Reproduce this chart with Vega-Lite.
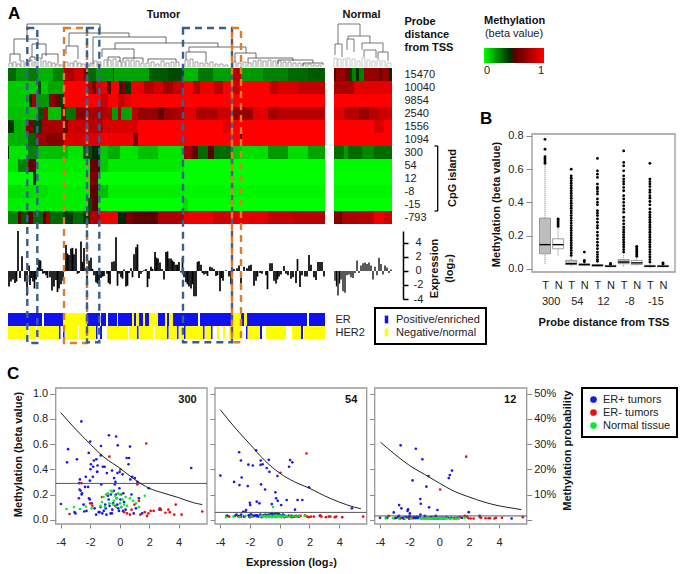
{"$schema":"https://vega.github.io/schema/vega-lite/v6.json","width":683,"height":574,"padding":0,"autosize":{"type":"none"},"background":"white",
"config":{"font":"Liberation Sans","view":{"stroke":null},"axis":{"grid":false,"domain":false,"labelColor":"#222","labelFontSize":11,"titleFontSize":11,"titleFontWeight":"bold","titleColor":"#111","tickColor":"#888","labelOverlap":false,"labelFlush":false},"legend":{"strokeWidth":2}},
"datasets":{
"heatT":[
{"p":"15470","a":0,"b":8,"v":0.3},{"p":"15470","a":8,"b":20,"v":0.2},{"p":"15470","a":20,"b":30,"v":0.26},{"p":"15470","a":30,"b":45,"v":0.15},{"p":"15470","a":45,"b":56,"v":0.25},{"p":"15470","a":56,"b":66,"v":0.76},{"p":"15470","a":66,"b":76,"v":0.87},{"p":"15470","a":76,"b":80,"v":0.62},{"p":"15470","a":80,"b":88,"v":0.3},{"p":"15470","a":88,"b":105,"v":0.2},{"p":"15470","a":105,"b":106,"v":0.5},{"p":"15470","a":106,"b":141,"v":0.18},{"p":"15470","a":141,"b":160,"v":0.33},{"p":"15470","a":160,"b":176,"v":0.37},{"p":"15470","a":176,"b":190,"v":0.14},{"p":"15470","a":190,"b":205,"v":0.27},{"p":"15470","a":205,"b":224,"v":0.19},{"p":"15470","a":224,"b":233,"v":0.8},{"p":"15470","a":233,"b":255,"v":0.2},{"p":"15470","a":255,"b":280,"v":0.25},{"p":"15470","a":280,"b":300,"v":0.3},{"p":"15470","a":300,"b":317,"v":0.33},
{"p":"10040","a":0,"b":30,"v":0.1},{"p":"10040","a":30,"b":33,"v":0.35},{"p":"10040","a":33,"b":40,"v":0.1},{"p":"10040","a":40,"b":56,"v":0.17},{"p":"10040","a":56,"b":79,"v":1},{"p":"10040","a":79,"b":84,"v":0.8},{"p":"10040","a":84,"b":88,"v":0.62},{"p":"10040","a":88,"b":93,"v":0.88},{"p":"10040","a":93,"b":99,"v":0.95},{"p":"10040","a":99,"b":103,"v":0.52},{"p":"10040","a":103,"b":111,"v":1},{"p":"10040","a":111,"b":114,"v":0.45},{"p":"10040","a":114,"b":118,"v":0.62},{"p":"10040","a":118,"b":123,"v":0.42},{"p":"10040","a":123,"b":136,"v":0.95},{"p":"10040","a":136,"b":146,"v":0.78},{"p":"10040","a":146,"b":155,"v":0.88},{"p":"10040","a":155,"b":165,"v":0.74},{"p":"10040","a":165,"b":176,"v":0.85},{"p":"10040","a":176,"b":185,"v":1},{"p":"10040","a":185,"b":192,"v":0.78},{"p":"10040","a":192,"b":206,"v":0.95},{"p":"10040","a":206,"b":215,"v":0.82},{"p":"10040","a":215,"b":224,"v":1},{"p":"10040","a":224,"b":232,"v":0.85},{"p":"10040","a":232,"b":262,"v":1},{"p":"10040","a":262,"b":270,"v":0.82},{"p":"10040","a":270,"b":290,"v":0.9},{"p":"10040","a":290,"b":317,"v":0.84},
{"p":"9854","a":0,"b":21,"v":0.1},{"p":"9854","a":21,"b":24,"v":0.45},{"p":"9854","a":24,"b":28,"v":0.72},{"p":"9854","a":28,"b":41,"v":0.2},{"p":"9854","a":41,"b":46,"v":0.68},{"p":"9854","a":46,"b":52,"v":0.58},{"p":"9854","a":52,"b":56,"v":0.4},{"p":"9854","a":56,"b":93,"v":1},{"p":"9854","a":93,"b":100,"v":0.85},{"p":"9854","a":100,"b":110,"v":1},{"p":"9854","a":110,"b":116,"v":0.85},{"p":"9854","a":116,"b":123,"v":0.92},{"p":"9854","a":123,"b":317,"v":1},
{"p":"2540","a":0,"b":30,"v":0.12},{"p":"2540","a":30,"b":36,"v":0.35},{"p":"2540","a":36,"b":40,"v":0.72},{"p":"2540","a":40,"b":53,"v":0.12},{"p":"2540","a":53,"b":58,"v":0.62},{"p":"2540","a":58,"b":68,"v":0.28},{"p":"2540","a":68,"b":78,"v":0.66},{"p":"2540","a":78,"b":95,"v":0.75},{"p":"2540","a":95,"b":104,"v":0.8},{"p":"2540","a":104,"b":110,"v":0.2},{"p":"2540","a":110,"b":113,"v":0.72},{"p":"2540","a":113,"b":124,"v":0.18},{"p":"2540","a":124,"b":130,"v":0.82},{"p":"2540","a":130,"b":150,"v":0.7},{"p":"2540","a":150,"b":156,"v":0.55},{"p":"2540","a":156,"b":165,"v":0.72},{"p":"2540","a":165,"b":176,"v":0.76},{"p":"2540","a":176,"b":188,"v":0.92},{"p":"2540","a":188,"b":210,"v":0.76},{"p":"2540","a":210,"b":224,"v":0.86},{"p":"2540","a":224,"b":245,"v":0.7},{"p":"2540","a":245,"b":260,"v":0.92},{"p":"2540","a":260,"b":270,"v":0.75},{"p":"2540","a":270,"b":317,"v":0.8},
{"p":"1556","a":0,"b":6,"v":0.42},{"p":"1556","a":6,"b":18,"v":0.15},{"p":"1556","a":18,"b":26,"v":0.62},{"p":"1556","a":26,"b":34,"v":0.4},{"p":"1556","a":34,"b":55,"v":0.76},{"p":"1556","a":55,"b":60,"v":0.55},{"p":"1556","a":60,"b":80,"v":0.86},{"p":"1556","a":80,"b":95,"v":0.8},{"p":"1556","a":95,"b":130,"v":0.9},{"p":"1556","a":130,"b":215,"v":1},{"p":"1556","a":215,"b":225,"v":0.92},{"p":"1556","a":225,"b":317,"v":1},
{"p":"1094","a":0,"b":20,"v":0.15},{"p":"1094","a":20,"b":28,"v":0.3},{"p":"1094","a":28,"b":38,"v":0.72},{"p":"1094","a":38,"b":56,"v":0.66},{"p":"1094","a":56,"b":90,"v":0.9},{"p":"1094","a":90,"b":125,"v":0.96},{"p":"1094","a":125,"b":130,"v":0.6},{"p":"1094","a":130,"b":232,"v":1},{"p":"1094","a":232,"b":234,"v":0.55},{"p":"1094","a":234,"b":317,"v":1},
{"p":"300","a":0,"b":1,"v":0.42},{"p":"300","a":1,"b":20,"v":0.05},{"p":"300","a":20,"b":30,"v":0.25},{"p":"300","a":30,"b":60,"v":0.12},{"p":"300","a":60,"b":75,"v":0.05},{"p":"300","a":75,"b":84,"v":0.35},{"p":"300","a":84,"b":92,"v":0.48},{"p":"300","a":92,"b":100,"v":0.1},{"p":"300","a":100,"b":112,"v":0.16},{"p":"300","a":112,"b":130,"v":0.05},{"p":"300","a":130,"b":150,"v":0.12},{"p":"300","a":150,"b":176,"v":0.05},{"p":"300","a":176,"b":184,"v":0.72},{"p":"300","a":184,"b":190,"v":0.55},{"p":"300","a":190,"b":200,"v":0.3},{"p":"300","a":200,"b":206,"v":0.5},{"p":"300","a":206,"b":224,"v":0.3},{"p":"300","a":224,"b":234,"v":0.1},{"p":"300","a":234,"b":260,"v":0.06},{"p":"300","a":260,"b":280,"v":0.2},{"p":"300","a":280,"b":300,"v":0.07},{"p":"300","a":300,"b":317,"v":0.18},
{"p":"54","a":0,"b":10,"v":0.05},{"p":"54","a":10,"b":20,"v":0.25},{"p":"54","a":20,"b":28,"v":0.55},{"p":"54","a":28,"b":82,"v":0.03},{"p":"54","a":82,"b":92,"v":0.55},{"p":"54","a":92,"b":100,"v":0.1},{"p":"54","a":100,"b":176,"v":0.04},{"p":"54","a":176,"b":317,"v":0},
{"p":"12","a":0,"b":25,"v":0},{"p":"12","a":25,"b":28,"v":0.45},{"p":"12","a":28,"b":82,"v":0.02},{"p":"12","a":82,"b":90,"v":0.62},{"p":"12","a":90,"b":317,"v":0},
{"p":"-8","a":0,"b":40,"v":0.06},{"p":"-8","a":40,"b":82,"v":0.03},{"p":"-8","a":82,"b":90,"v":0.52},{"p":"-8","a":90,"b":100,"v":0.12},{"p":"-8","a":100,"b":176,"v":0.03},{"p":"-8","a":176,"b":317,"v":0.02},
{"p":"-15","a":0,"b":80,"v":0.03},{"p":"-15","a":80,"b":84,"v":0.35},{"p":"-15","a":84,"b":90,"v":0.52},{"p":"-15","a":90,"b":175,"v":0},{"p":"-15","a":175,"b":180,"v":0.06},{"p":"-15","a":180,"b":317,"v":0},
{"p":"-793","a":0,"b":10,"v":0.25},{"p":"-793","a":10,"b":13,"v":0.5},{"p":"-793","a":13,"b":20,"v":0.35},{"p":"-793","a":20,"b":25,"v":0.5},{"p":"-793","a":25,"b":35,"v":0.3},{"p":"-793","a":35,"b":38,"v":0.5},{"p":"-793","a":38,"b":42,"v":0.72},{"p":"-793","a":42,"b":55,"v":0.3},{"p":"-793","a":55,"b":65,"v":0.4},{"p":"-793","a":65,"b":75,"v":0.3},{"p":"-793","a":75,"b":82,"v":0.42},{"p":"-793","a":82,"b":92,"v":0.76},{"p":"-793","a":92,"b":110,"v":0.95},{"p":"-793","a":110,"b":118,"v":0.48},{"p":"-793","a":118,"b":125,"v":0.6},{"p":"-793","a":125,"b":135,"v":0.53},{"p":"-793","a":135,"b":150,"v":0.5},{"p":"-793","a":150,"b":176,"v":0.76},{"p":"-793","a":176,"b":205,"v":0.94},{"p":"-793","a":205,"b":224,"v":0.86},{"p":"-793","a":224,"b":260,"v":0.92},{"p":"-793","a":260,"b":285,"v":0.84},{"p":"-793","a":285,"b":317,"v":0.8}
],
"heatN":[
{"p":"15470","a":0,"b":2,"v":0.55},{"p":"15470","a":2,"b":12,"v":0.7},{"p":"15470","a":12,"b":16,"v":0.6},{"p":"15470","a":16,"b":18,"v":0.4},{"p":"15470","a":18,"b":22,"v":0.25},{"p":"15470","a":22,"b":25,"v":0.45},{"p":"15470","a":25,"b":30,"v":0.25},{"p":"15470","a":30,"b":45,"v":0.7},{"p":"15470","a":45,"b":48,"v":0.5},{"p":"15470","a":48,"b":55,"v":0.7},{"p":"15470","a":55,"b":58,"v":0.45},
{"p":"10040","a":0,"b":20,"v":0.76},{"p":"10040","a":20,"b":58,"v":0.92},
{"p":"9854","a":0,"b":58,"v":1},
{"p":"2540","a":0,"b":10,"v":0.92},{"p":"2540","a":10,"b":25,"v":0.8},{"p":"2540","a":25,"b":35,"v":0.7},{"p":"2540","a":35,"b":45,"v":0.8},{"p":"2540","a":45,"b":58,"v":0.86},
{"p":"1556","a":0,"b":40,"v":1},{"p":"1556","a":40,"b":50,"v":0.9},{"p":"1556","a":50,"b":58,"v":1},
{"p":"1094","a":0,"b":58,"v":1},
{"p":"300","a":0,"b":10,"v":0.3},{"p":"300","a":10,"b":14,"v":0.2},{"p":"300","a":14,"b":28,"v":0.3},{"p":"300","a":28,"b":40,"v":0.24},{"p":"300","a":40,"b":58,"v":0.3},
{"p":"54","a":0,"b":58,"v":0.01},{"p":"12","a":0,"b":58,"v":0},{"p":"-8","a":0,"b":58,"v":0.02},{"p":"-15","a":0,"b":58,"v":0},
{"p":"-793","a":0,"b":6,"v":0.66},{"p":"-793","a":6,"b":8,"v":0.5},{"p":"-793","a":8,"b":25,"v":0.76},{"p":"-793","a":25,"b":40,"v":0.8},{"p":"-793","a":40,"b":50,"v":0.95},{"p":"-793","a":50,"b":58,"v":0.86}
],
"exprT":[{"s":1,"e":-2.2},{"s":3,"e":-1.5},{"s":5,"e":-1.2},{"s":7,"e":-1.7},{"s":8.5,"e":-1.5},{"s":10,"e":5.7},{"s":12,"e":-1},{"s":14,"e":2.1},{"s":17,"e":-1.5},{"s":19,"e":-3.5},{"s":21,"e":0.8},{"s":22,"e":-2},{"s":23.5,"e":-1},{"s":25,"e":-1.5},{"s":26.5,"e":-2.5},{"s":28,"e":-1.2},{"s":29.5,"e":0.5},{"s":31,"e":1.6},{"s":32.5,"e":1.5},{"s":34,"e":0.3},{"s":35,"e":-0.4},{"s":36.5,"e":-0.3},{"s":38,"e":-0.6},{"s":39.5,"e":-1},{"s":42,"e":-0.9},{"s":44,"e":-2.8},{"s":46,"e":-2.2},{"s":48,"e":-1.3},{"s":49.5,"e":-3},{"s":51,"e":-2.5},{"s":53,"e":-1.9},{"s":55,"e":-1.4},{"s":57,"e":0.5},{"s":58,"e":3.7},{"s":59.5,"e":2.5},{"s":61,"e":2.3},{"s":63,"e":3.2},{"s":64.5,"e":3.3},{"s":66,"e":2.4},{"s":68,"e":3.2},{"s":69.5,"e":-0.4},{"s":71,"e":-0.3},{"s":73,"e":4.2},{"s":74.5,"e":1.3},{"s":76,"e":3.3},{"s":78,"e":0.4},{"s":79,"e":-1.7},{"s":81,"e":1.5},{"s":83,"e":1.9},{"s":84.5,"e":0.3},{"s":86,"e":-0.6},{"s":88,"e":-1.6},{"s":89.5,"e":-1.8},{"s":91,"e":-1.6},{"s":93,"e":-1},{"s":94.5,"e":-0.8},{"s":96,"e":-0.7},{"s":99,"e":-0.4},{"s":100.5,"e":-1.7},{"s":102,"e":-1.9},{"s":104,"e":1.3},{"s":106,"e":1.4},{"s":108,"e":4.8},{"s":109.5,"e":-2.1},{"s":111,"e":-0.4},{"s":113,"e":-0.9},{"s":114.5,"e":-1.1},{"s":116,"e":0.2},{"s":118,"e":-2.2},{"s":119.5,"e":-2.1},{"s":121,"e":-0.3},{"s":123,"e":0.4},{"s":124.5,"e":-0.9},{"s":126,"e":2.4},{"s":128,"e":3.4},{"s":129.5,"e":3.8},{"s":131,"e":-1},{"s":133,"e":-0.4},{"s":134.5,"e":-0.1},{"s":136,"e":0.1},{"s":138,"e":0.3},{"s":139.5,"e":-2.3},{"s":141,"e":-1.1},{"s":143,"e":0.6},{"s":144.5,"e":0.3},{"s":147,"e":2.7},{"s":148.5,"e":1.9},{"s":150,"e":1.8},{"s":152,"e":1.2},{"s":154,"e":0.3},{"s":156,"e":-1.2},{"s":158,"e":2.7},{"s":159.5,"e":2.8},{"s":161,"e":1.8},{"s":163,"e":1.8},{"s":164.5,"e":1.5},{"s":166,"e":1.3},{"s":168,"e":0.9},{"s":169.5,"e":0.9},{"s":171,"e":1.3},{"s":173,"e":-0.2},{"s":174.5,"e":1.9},{"s":176,"e":-0.9},{"s":178,"e":-1.6},{"s":179.5,"e":-1.9},{"s":181,"e":-2.2},{"s":183,"e":-2.5},{"s":184.5,"e":-1.9},{"s":186,"e":-3.6},{"s":188,"e":-3.6},{"s":189.5,"e":1.3},{"s":191,"e":1.4},{"s":193,"e":0.9},{"s":194.5,"e":-0.3},{"s":196,"e":-0.5},{"s":198,"e":-0.4},{"s":199.5,"e":-0.7},{"s":202,"e":0.6},{"s":204,"e":0.5},{"s":206,"e":0.3},{"s":208,"e":-0.7},{"s":209.5,"e":-0.6},{"s":212,"e":-2.9},{"s":213.5,"e":-1},{"s":215,"e":-1.4},{"s":218,"e":0.1},{"s":221,"e":-0.8},{"s":223,"e":-1.9},{"s":226,"e":0.3},{"s":229,"e":0.4},{"s":231,"e":0.8},{"s":233,"e":-2.7},{"s":236,"e":0.6},{"s":239,"e":0.4},{"s":241,"e":0.8},{"s":243,"e":0.9},{"s":246,"e":-2.1},{"s":248,"e":-1.4},{"s":249.5,"e":-0.8},{"s":252,"e":-0.3},{"s":254,"e":-0.4},{"s":258,"e":-0.6},{"s":259.5,"e":-2.6},{"s":262,"e":1.1},{"s":264,"e":1.1},{"s":266,"e":-1.4},{"s":268,"e":-1.8},{"s":269.5,"e":-1.2},{"s":271,"e":-0.8},{"s":273,"e":-0.5},{"s":276,"e":0.7},{"s":278,"e":-0.4},{"s":280,"e":-0.6},{"s":283,"e":-1.1},{"s":285,"e":-0.9},{"s":288,"e":-1.7},{"s":289.5,"e":1.7},{"s":292,"e":-2.3},{"s":294,"e":-0.6},{"s":297,"e":-0.8},{"s":299,"e":-0.8},{"s":301,"e":2.3},{"s":303,"e":0.9},{"s":306,"e":-0.9},{"s":308,"e":-1.3},{"s":310,"e":1.3},{"s":312,"e":1.3},{"s":314,"e":1.3},{"s":316,"e":-0.8}],
"exprN":[{"s":1,"e":-1.4},{"s":2.5,"e":-2.2},{"s":4,"e":-3.5},{"s":5.5,"e":-1.8},{"s":7,"e":-1.2},{"s":9,"e":-2.9},{"s":11,"e":-3.1},{"s":13,"e":-0.6},{"s":15,"e":-0.5},{"s":17,"e":-0.9},{"s":19,"e":-1},{"s":21,"e":-0.3},{"s":23,"e":1.5},{"s":25,"e":-0.3},{"s":27,"e":0.8},{"s":29,"e":1.1},{"s":31,"e":1.2},{"s":33,"e":1},{"s":35,"e":1.2},{"s":37,"e":0.8},{"s":39,"e":-1.2},{"s":41,"e":0.6},{"s":43,"e":-0.6},{"s":45,"e":1.9},{"s":47,"e":1},{"s":49,"e":-0.5},{"s":51,"e":0.8},{"s":53,"e":0.5},{"s":55,"e":-0.3},{"s":57,"e":0.2}],
"strip":[
{"t":"ER","a":0,"b":34,"k":"Positive/enriched"},{"t":"ER","a":36,"b":55,"k":"Positive/enriched"},{"t":"ER","a":55,"b":79,"k":"Negative/normal"},{"t":"ER","a":79,"b":92,"k":"Positive/enriched"},{"t":"ER","a":93,"b":98,"k":"Positive/enriched"},{"t":"ER","a":100,"b":109,"k":"Positive/enriched"},{"t":"ER","a":110,"b":124,"k":"Positive/enriched"},{"t":"ER","a":124,"b":126,"k":"Negative/normal"},{"t":"ER","a":126,"b":128,"k":"Positive/enriched"},{"t":"ER","a":128,"b":131,"k":"Negative/normal"},{"t":"ER","a":131,"b":135,"k":"Positive/enriched"},{"t":"ER","a":135,"b":137,"k":"Negative/normal"},{"t":"ER","a":137,"b":141,"k":"Positive/enriched"},{"t":"ER","a":141,"b":145,"k":"Negative/normal"},{"t":"ER","a":145,"b":150,"k":"Negative/normal"},{"t":"ER","a":150,"b":157,"k":"Positive/enriched"},{"t":"ER","a":157,"b":159,"k":"Negative/normal"},{"t":"ER","a":159,"b":161,"k":"Positive/enriched"},{"t":"ER","a":161,"b":165,"k":"Negative/normal"},{"t":"ER","a":165,"b":173,"k":"Positive/enriched"},{"t":"ER","a":173,"b":190,"k":"Positive/enriched"},{"t":"ER","a":192,"b":224,"k":"Positive/enriched"},{"t":"ER","a":224,"b":233,"k":"Negative/normal"},{"t":"ER","a":233,"b":236,"k":"Positive/enriched"},{"t":"ER","a":236,"b":239,"k":"Negative/normal"},{"t":"ER","a":239,"b":299,"k":"Positive/enriched"},{"t":"ER","a":301,"b":317,"k":"Positive/enriched"},
{"t":"HER2","a":0,"b":20,"k":"Negative/normal"},{"t":"HER2","a":21,"b":28,"k":"Negative/normal"},{"t":"HER2","a":29,"b":51,"k":"Negative/normal"},{"t":"HER2","a":51,"b":52.5,"k":"Positive/enriched"},{"t":"HER2","a":55,"b":56.5,"k":"Positive/enriched"},{"t":"HER2","a":57,"b":63,"k":"Negative/normal"},{"t":"HER2","a":64,"b":70,"k":"Negative/normal"},{"t":"HER2","a":71,"b":88,"k":"Negative/normal"},{"t":"HER2","a":88,"b":89.5,"k":"Positive/enriched"},{"t":"HER2","a":92,"b":94,"k":"Positive/enriched"},{"t":"HER2","a":99,"b":120,"k":"Negative/normal"},{"t":"HER2","a":121,"b":129,"k":"Negative/normal"},{"t":"HER2","a":129,"b":130.5,"k":"Positive/enriched"},{"t":"HER2","a":131,"b":145,"k":"Negative/normal"},{"t":"HER2","a":147,"b":159,"k":"Negative/normal"},{"t":"HER2","a":159,"b":160.5,"k":"Positive/enriched"},{"t":"HER2","a":161,"b":169,"k":"Negative/normal"},{"t":"HER2","a":169,"b":170.5,"k":"Positive/enriched"},{"t":"HER2","a":171,"b":176,"k":"Negative/normal"},{"t":"HER2","a":176,"b":177.5,"k":"Positive/enriched"},{"t":"HER2","a":178,"b":195,"k":"Negative/normal"},{"t":"HER2","a":195,"b":196.5,"k":"Positive/enriched"},{"t":"HER2","a":197,"b":203,"k":"Negative/normal"},{"t":"HER2","a":203,"b":204.5,"k":"Positive/enriched"},{"t":"HER2","a":209,"b":211,"k":"Negative/normal"},{"t":"HER2","a":215,"b":217,"k":"Negative/normal"},{"t":"HER2","a":221,"b":224,"k":"Negative/normal"},{"t":"HER2","a":225,"b":233,"k":"Negative/normal"},{"t":"HER2","a":238,"b":239.5,"k":"Positive/enriched"},{"t":"HER2","a":240,"b":252,"k":"Negative/normal"},{"t":"HER2","a":252,"b":254,"k":"Positive/enriched"},{"t":"HER2","a":258,"b":278,"k":"Negative/normal"},{"t":"HER2","a":284,"b":293,"k":"Negative/normal"},{"t":"HER2","a":293,"b":295,"k":"Positive/enriched"},{"t":"HER2","a":296,"b":317,"k":"Negative/normal"}
],
"treeT":[{"a":19,"b":92,"ha":28,"hb":34,"h":43},{"a":6,"b":30,"ha":13,"hb":23,"h":28},{"a":2,"b":12,"ha":5,"hb":6,"h":13},{"a":24,"b":38,"ha":10,"hb":11,"h":23},{"a":22,"b":27,"ha":5,"hb":7,"h":10},{"a":34,"b":50,"ha":8,"hb":4,"h":13},{"a":61,"b":121,"ha":21,"hb":30,"h":34},{"a":58,"b":70,"ha":13,"hb":8,"h":21},{"a":85,"b":158,"ha":3,"hb":24,"h":30},{"a":107,"b":210,"ha":18,"hb":20,"h":24},{"a":94,"b":126,"ha":10,"hb":8,"h":18},{"a":181,"b":238,"ha":15,"hb":14,"h":20},{"a":178,"b":198,"ha":7,"hb":5,"h":15},{"a":227,"b":248,"ha":5,"hb":9,"h":14},{"a":240,"b":285,"ha":4,"hb":6,"h":9},{"a":270,"b":305,"ha":3,"hb":4,"h":7},{"a":295,"b":315,"ha":1,"hb":2,"h":4},{"a":100,"b":112,"ha":7,"hb":5,"h":10},{"a":115,"b":135,"ha":6,"hb":5,"h":9},{"a":140,"b":168,"ha":5,"hb":5,"h":8}],
"leafT":[{"a":1,"b":4,"h":4},{"a":5,"b":8,"h":5},{"a":9,"b":12,"h":3},{"a":13,"b":16,"h":6},{"a":17,"b":20,"h":4},{"a":21,"b":24,"h":7},{"a":26,"b":28,"h":5},{"a":30,"b":33,"h":9},{"a":35,"b":38,"h":6},{"a":40,"b":43,"h":5},{"a":44,"b":47,"h":4},{"a":48,"b":51,"h":3},{"a":52,"b":55,"h":2},{"a":57,"b":60,"h":5},{"a":62,"b":65,"h":4},{"a":66,"b":69,"h":6},{"a":70,"b":73,"h":4},{"a":74,"b":77,"h":3},{"a":78,"b":81,"h":3},{"a":82,"b":84,"h":4},{"a":86,"b":89,"h":6},{"a":90,"b":93,"h":5},{"a":96,"b":99,"h":7},{"a":100,"b":103,"h":7},{"a":105,"b":108,"h":8},{"a":110,"b":113,"h":6},{"a":114,"b":117,"h":5},{"a":118,"b":121,"h":7},{"a":123,"b":126,"h":7},{"a":128,"b":131,"h":6},{"a":133,"b":136,"h":4},{"a":138,"b":141,"h":4},{"a":143,"b":146,"h":5},{"a":148,"b":151,"h":3},{"a":153,"b":156,"h":6},{"a":158,"b":161,"h":4},{"a":163,"b":166,"h":5},{"a":168,"b":171,"h":5},{"a":177,"b":180,"h":7},{"a":182,"b":185,"h":8},{"a":187,"b":190,"h":5},{"a":192,"b":195,"h":4},{"a":197,"b":200,"h":4},{"a":202,"b":205,"h":5},{"a":207,"b":210,"h":3},{"a":212,"b":215,"h":3},{"a":217,"b":220,"h":2},{"a":225,"b":228,"h":5},{"a":230,"b":233,"h":4},{"a":235,"b":238,"h":5},{"a":240,"b":243,"h":4},{"a":245,"b":248,"h":6},{"a":250,"b":253,"h":7},{"a":255,"b":258,"h":6},{"a":260,"b":263,"h":7},{"a":265,"b":268,"h":6},{"a":270,"b":273,"h":6},{"a":275,"b":278,"h":5},{"a":280,"b":283,"h":5},{"a":285,"b":288,"h":4},{"a":290,"b":293,"h":4},{"a":295,"b":298,"h":3},{"a":300,"b":303,"h":3},{"a":305,"b":308,"h":2},{"a":310,"b":313,"h":2}],
"treeN":[{"a":4,"b":26,"ha":23,"hb":31,"h":43},{"a":14,"b":36,"ha":28,"hb":24,"h":31},{"a":13,"b":20,"ha":17,"hb":15,"h":28},{"a":28,"b":49,"ha":17,"hb":15,"h":24},{"a":1,"b":8,"ha":12,"hb":10,"h":23},{"a":30,"b":42,"ha":10,"hb":9,"h":17},{"a":44,"b":54,"ha":8,"hb":6,"h":15}],
"leafN":[{"a":0,"b":3,"h":9},{"a":4,"b":7,"h":8},{"a":9,"b":12,"h":8},{"a":13,"b":16,"h":9},{"a":18,"b":21,"h":8},{"a":23,"b":26,"h":6},{"a":28,"b":31,"h":9},{"a":33,"b":36,"h":7},{"a":38,"b":41,"h":6},{"a":43,"b":46,"h":7},{"a":48,"b":51,"h":6},{"a":53,"b":57,"h":4}],
"boxes":[{"x0":19.3,"x1":29.3,"y0":-3.08,"y1":21.15,"c":"blue"},{"x0":56,"x1":79,"y0":-3.08,"y1":21.15,"c":"orange"},{"x0":79,"x1":91.3,"y0":-3.08,"y1":21.1,"c":"blue"},{"x0":175,"x1":224,"y0":-3.08,"y1":21.1,"c":"blue"},{"x0":224,"x1":233,"y0":-3.08,"y1":21.1,"c":"orange"}],
"bp":[{"c":"300T","g":"300","k":"T","lo":0.03,"q1":0.09,"m":0.145,"q3":0.305,"hi":0.63},{"c":"300N","g":"300","k":"N","lo":0.08,"q1":0.12,"m":0.145,"q3":0.18,"hi":0.245},{"c":"54T","g":"54","k":"T","lo":0.015,"q1":0.025,"m":0.03,"q3":0.05,"hi":0.07},{"c":"54N","g":"54","k":"N","lo":0.015,"q1":0.02,"m":0.025,"q3":0.03,"hi":0.035},{"c":"12T","g":"12","k":"T","lo":0.01,"q1":0.015,"m":0.02,"q3":0.025,"hi":0.035},{"c":"12N","g":"12","k":"N","lo":0.01,"q1":0.012,"m":0.015,"q3":0.02,"hi":0.025},{"c":"-8T","g":"-8","k":"T","lo":0.015,"q1":0.03,"m":0.04,"q3":0.055,"hi":0.085},{"c":"-8N","g":"-8","k":"N","lo":0.02,"q1":0.025,"m":0.035,"q3":0.05,"hi":0.07},{"c":"-15T","g":"-15","k":"T","lo":0.008,"q1":0.012,"m":0.015,"q3":0.02,"hi":0.03},{"c":"-15N","g":"-15","k":"N","lo":0.008,"q1":0.012,"m":0.015,"q3":0.02,"hi":0.025}],
"out":[{"c":"300T","v":0.78},{"c":"300T","v":0.72},{"c":"300T","v":0.675},{"c":"300T","v":0.665},{"c":"300T","v":0.655},{"c":"300T","v":0.645},{"c":"300T","v":0.635},{"c":"300N","v":0.255},{"c":"300N","v":0.265},{"c":"300N","v":0.275},{"c":"300N","v":0.285},{"c":"300N","v":0.295},{"c":"300N","v":0.3},
{"c":"54T","v":0.6},{"c":"54T","v":0.56},{"c":"54T","v":0.545},{"c":"54T","v":0.53},{"c":"54T","v":0.515},{"c":"54T","v":0.5},{"c":"54T","v":0.485},{"c":"54T","v":0.47},{"c":"54T","v":0.455},{"c":"54T","v":0.44},{"c":"54T","v":0.425},{"c":"54T","v":0.41},{"c":"54T","v":0.395},{"c":"54T","v":0.38},{"c":"54T","v":0.365},{"c":"54T","v":0.35},{"c":"54T","v":0.335},{"c":"54T","v":0.32},{"c":"54T","v":0.305},{"c":"54T","v":0.29},{"c":"54T","v":0.275},{"c":"54T","v":0.26},{"c":"54T","v":0.245},{"c":"54T","v":0.23},{"c":"54T","v":0.215},{"c":"54T","v":0.2},{"c":"54T","v":0.185},{"c":"54T","v":0.17},{"c":"54T","v":0.155},{"c":"54T","v":0.14},{"c":"54T","v":0.125},{"c":"54T","v":0.11},{"c":"54T","v":0.095},{"c":"54T","v":0.08},{"c":"54N","v":0.1},{"c":"54N","v":0.05},{"c":"54N","v":0.042},
{"c":"12T","v":0.665},{"c":"12T","v":0.59},{"c":"12T","v":0.57},{"c":"12T","v":0.55},{"c":"12T","v":0.51},{"c":"12T","v":0.49},{"c":"12T","v":0.48},{"c":"12T","v":0.465},{"c":"12T","v":0.45},{"c":"12T","v":0.42},{"c":"12T","v":0.4},{"c":"12T","v":0.385},{"c":"12T","v":0.35},{"c":"12T","v":0.335},{"c":"12T","v":0.32},{"c":"12T","v":0.3},{"c":"12T","v":0.28},{"c":"12T","v":0.26},{"c":"12T","v":0.245},{"c":"12T","v":0.22},{"c":"12T","v":0.2},{"c":"12T","v":0.18},{"c":"12T","v":0.16},{"c":"12T","v":0.14},{"c":"12T","v":0.12},{"c":"12T","v":0.1},{"c":"12T","v":0.085},{"c":"12T","v":0.07},{"c":"12T","v":0.055},{"c":"12T","v":0.045},{"c":"12N","v":0.032},{"c":"12N","v":0.027},
{"c":"-8T","v":0.71},{"c":"-8T","v":0.64},{"c":"-8T","v":0.62},{"c":"-8T","v":0.59},{"c":"-8T","v":0.56},{"c":"-8T","v":0.54},{"c":"-8T","v":0.525},{"c":"-8T","v":0.51},{"c":"-8T","v":0.49},{"c":"-8T","v":0.47},{"c":"-8T","v":0.44},{"c":"-8T","v":0.42},{"c":"-8T","v":0.4},{"c":"-8T","v":0.38},{"c":"-8T","v":0.36},{"c":"-8T","v":0.34},{"c":"-8T","v":0.31},{"c":"-8T","v":0.29},{"c":"-8T","v":0.27},{"c":"-8T","v":0.25},{"c":"-8T","v":0.235},{"c":"-8T","v":0.22},{"c":"-8T","v":0.205},{"c":"-8T","v":0.19},{"c":"-8T","v":0.175},{"c":"-8T","v":0.16},{"c":"-8T","v":0.145},{"c":"-8T","v":0.13},{"c":"-8T","v":0.115},{"c":"-8T","v":0.1},{"c":"-8N","v":0.135},{"c":"-8N","v":0.125},{"c":"-8N","v":0.115},{"c":"-8N","v":0.105},{"c":"-8N","v":0.095},{"c":"-8N","v":0.085},{"c":"-8N","v":0.075},
{"c":"-15T","v":0.635},{"c":"-15T","v":0.54},{"c":"-15T","v":0.525},{"c":"-15T","v":0.51},{"c":"-15T","v":0.495},{"c":"-15T","v":0.475},{"c":"-15T","v":0.46},{"c":"-15T","v":0.44},{"c":"-15T","v":0.425},{"c":"-15T","v":0.405},{"c":"-15T","v":0.385},{"c":"-15T","v":0.36},{"c":"-15T","v":0.34},{"c":"-15T","v":0.325},{"c":"-15T","v":0.31},{"c":"-15T","v":0.295},{"c":"-15T","v":0.28},{"c":"-15T","v":0.265},{"c":"-15T","v":0.25},{"c":"-15T","v":0.235},{"c":"-15T","v":0.22},{"c":"-15T","v":0.205},{"c":"-15T","v":0.19},{"c":"-15T","v":0.175},{"c":"-15T","v":0.16},{"c":"-15T","v":0.145},{"c":"-15T","v":0.13},{"c":"-15T","v":0.115},{"c":"-15T","v":0.1},{"c":"-15T","v":0.085},{"c":"-15T","v":0.07},{"c":"-15T","v":0.055},{"c":"-15T","v":0.04},{"c":"-15N","v":0.035},{"c":"-15N","v":0.028}],
"pts":[
{"e":-2.6,"g":"ER+ tumors","a":0.78,"b":0.47,"c":0.59},{"e":-3.57,"g":"ER+ tumors","a":0.455,"b":0.03,"c":0.015},{"e":-3.5,"g":"ER+ tumors","a":0.56,"b":0.03,"c":0.015},{"e":-3.98,"g":"ER+ tumors","a":0.125,"b":0.35,"c":0.015},{"e":-3.06,"g":"ER+ tumors","a":0.06,"b":0.3,"c":0.058},{"e":-2.7,"g":"ER+ tumors","a":0.32,"b":0.275,"c":0.116},{"e":-2.72,"g":"ER+ tumors","a":0.24,"b":0.535,"c":0.03},{"e":-2.55,"g":"ER+ tumors","a":0.21,"b":0.335,"c":0.09},{"e":-2.9,"g":"ER+ tumors","a":0.48,"b":0.04,"c":0.015},{"e":-2.14,"g":"ER+ tumors","a":0.26,"b":0.267,"c":0.07},{"e":-2.1,"g":"ER+ tumors","a":0.53,"b":0.437,"c":0.082},{"e":-2,"g":"ER+ tumors","a":0.62,"b":0.135,"c":0.03},{"e":-1.8,"g":"ER+ tumors","a":0.42,"b":0.43,"c":0.312},{"e":-1.58,"g":"ER+ tumors","a":0.48,"b":0.55,"c":0.563},{"e":-1.27,"g":"ER+ tumors","a":0.585,"b":0.47,"c":0.04},{"e":-1.28,"g":"ER+ tumors","a":0.51,"b":0.435,"c":0.164},{"e":-1.25,"g":"ER+ tumors","a":0.28,"b":0.28,"c":0.127},{"e":-1.14,"g":"ER+ tumors","a":0.42,"b":0.44,"c":0.48},{"e":-0.87,"g":"ER+ tumors","a":0.37,"b":0.41,"c":0.262},{"e":-0.73,"g":"ER+ tumors","a":0.67,"b":0.475,"c":0.347},{"e":-0.69,"g":"ER+ tumors","a":0.11,"b":0.38,"c":0.098},{"e":-0.98,"g":"ER+ tumors","a":0.12,"b":0.24,"c":0.03},{"e":-0.29,"g":"ER+ tumors","a":0.3,"b":0.217,"c":0.02},{"e":-0.24,"g":"ER+ tumors","a":0.66,"b":0.17,"c":0.03},{"e":-0.13,"g":"ER+ tumors","a":0.59,"b":0.15,"c":0.077},{"e":-0.53,"g":"ER+ tumors","a":0.05,"b":0.124,"c":0.02},{"e":-0.15,"g":"ER+ tumors","a":0.37,"b":0.347,"c":0.015},{"e":0.1,"g":"ER+ tumors","a":0.1,"b":0.116,"c":0.015},{"e":0.7,"g":"ER+ tumors","a":0.58,"b":0.473,"c":0.354},{"e":0.85,"g":"ER+ tumors","a":0.34,"b":0.455,"c":0.39},{"e":0.63,"g":"ER+ tumors","a":0.49,"b":0.42,"c":0.33},{"e":1.97,"g":"ER+ tumors","a":0.25,"b":0.257,"c":0.06},{"e":0.47,"g":"ER+ tumors","a":0.49,"b":0.156,"c":0.02},{"e":1.2,"g":"ER+ tumors","a":0.3,"b":0.156,"c":0.015},{"e":1.52,"g":"ER+ tumors","a":0.05,"b":0.156,"c":0.015},{"e":1.03,"g":"ER+ tumors","a":0.33,"b":0.08,"c":0.015},{"e":4.85,"g":"ER+ tumors","a":0.41,"b":0.09,"c":0.01},{"e":-1.54,"g":"ER+ tumors","a":0.38,"b":0.143,"c":0.02},{"e":-1.36,"g":"ER+ tumors","a":0.06,"b":0.13,"c":0.02},{"e":-1.98,"g":"ER+ tumors","a":0.4,"b":0.116,"c":0.05},{"e":-2.25,"g":"ER+ tumors","a":0.07,"b":0.077,"c":0.02},{"e":-2.45,"g":"ER+ tumors","a":0.12,"b":0.063,"c":0.015},{"e":-2.3,"g":"ER+ tumors","a":0.34,"b":0.063,"c":0.02},
{"e":-1.75,"g":"ER+ tumors","a":0.47,"b":0.03,"c":0.012},{"e":-1.5,"g":"ER+ tumors","a":0.43,"b":0.035,"c":0.02},{"e":-1.52,"g":"ER+ tumors","a":0.38,"b":0.028,"c":0.015},{"e":-1.95,"g":"ER+ tumors","a":0.44,"b":0.04,"c":0.018},{"e":-1.82,"g":"ER+ tumors","a":0.34,"b":0.03,"c":0.015},{"e":-2.02,"g":"ER+ tumors","a":0.31,"b":0.025,"c":0.01},{"e":-2.75,"g":"ER+ tumors","a":0.29,"b":0.025,"c":0.02},{"e":-2.65,"g":"ER+ tumors","a":0.23,"b":0.03,"c":0.012},{"e":-2.58,"g":"ER+ tumors","a":0.2,"b":0.04,"c":0.015},{"e":-2.35,"g":"ER+ tumors","a":0.26,"b":0.025,"c":0.01},{"e":-2.08,"g":"ER+ tumors","a":0.17,"b":0.035,"c":0.02},{"e":-2.03,"g":"ER+ tumors","a":0.16,"b":0.03,"c":0.012},{"e":-2.4,"g":"ER+ tumors","a":0.065,"b":0.025,"c":0.01},{"e":-2.77,"g":"ER+ tumors","a":0.17,"b":0.028,"c":0.02},{"e":-3,"g":"ER+ tumors","a":0.05,"b":0.03,"c":0.012},{"e":-1.9,"g":"ER+ tumors","a":0.13,"b":0.04,"c":0.015},{"e":-1.7,"g":"ER+ tumors","a":0.09,"b":0.03,"c":0.02},{"e":-1.6,"g":"ER+ tumors","a":0.04,"b":0.035,"c":0.012},{"e":-1.42,"g":"ER+ tumors","a":0.06,"b":0.025,"c":0.012},{"e":-1.3,"g":"ER+ tumors","a":0.1,"b":0.04,"c":0.018},{"e":-1.18,"g":"ER+ tumors","a":0.05,"b":0.03,"c":0.012},{"e":-1.08,"g":"ER+ tumors","a":0.07,"b":0.035,"c":0.015},{"e":-1.02,"g":"ER+ tumors","a":0.42,"b":0.03,"c":0.012},{"e":-0.95,"g":"ER+ tumors","a":0.09,"b":0.04,"c":0.02},{"e":-0.9,"g":"ER+ tumors","a":0.04,"b":0.028,"c":0.015},{"e":-0.8,"g":"ER+ tumors","a":0.19,"b":0.035,"c":0.012},{"e":-0.75,"g":"ER+ tumors","a":0.16,"b":0.04,"c":0.015},{"e":-0.62,"g":"ER+ tumors","a":0.05,"b":0.03,"c":0.018},{"e":-0.6,"g":"ER+ tumors","a":0.2,"b":0.045,"c":0.012},{"e":-0.5,"g":"ER+ tumors","a":0.08,"b":0.035,"c":0.012},{"e":-0.52,"g":"ER+ tumors","a":0.39,"b":0.05,"c":0.015},{"e":-0.45,"g":"ER+ tumors","a":0.13,"b":0.03,"c":0.012},{"e":-0.4,"g":"ER+ tumors","a":0.23,"b":0.04,"c":0.015},{"e":-0.38,"g":"ER+ tumors","a":0.33,"b":0.03,"c":0.01},{"e":-0.33,"g":"ER+ tumors","a":0.28,"b":0.045,"c":0.012},{"e":-0.25,"g":"ER+ tumors","a":0.2,"b":0.05,"c":0.015},{"e":-0.2,"g":"ER+ tumors","a":0.17,"b":0.04,"c":0.01},{"e":-0.16,"g":"ER+ tumors","a":0.12,"b":0.035,"c":0.015},{"e":-0.1,"g":"ER+ tumors","a":0.09,"b":0.05,"c":0.012},{"e":-0.05,"g":"ER+ tumors","a":0.07,"b":0.03,"c":0.012},{"e":-0.02,"g":"ER+ tumors","a":0.25,"b":0.04,"c":0.012},{"e":0,"g":"ER+ tumors","a":0.38,"b":0.035,"c":0.015},{"e":0.05,"g":"ER+ tumors","a":0.16,"b":0.03,"c":0.012},{"e":0.2,"g":"ER+ tumors","a":0.36,"b":0.03,"c":0.015},{"e":0.22,"g":"ER+ tumors","a":0.07,"b":0.04,"c":0.012},{"e":0.25,"g":"ER+ tumors","a":0.21,"b":0.03,"c":0.012},{"e":0.3,"g":"ER+ tumors","a":0.14,"b":0.035,"c":0.015},{"e":0.4,"g":"ER+ tumors","a":0.08,"b":0.025,"c":0.012},{"e":0.6,"g":"ER+ tumors","a":0.44,"b":0.03,"c":0.015},{"e":0.72,"g":"ER+ tumors","a":0.32,"b":0.025,"c":0.012},{"e":0.8,"g":"ER+ tumors","a":0.2,"b":0.03,"c":0.015},{"e":0.95,"g":"ER+ tumors","a":0.05,"b":0.025,"c":0.012},{"e":1.1,"g":"ER+ tumors","a":0.09,"b":0.03,"c":0.012},{"e":1.3,"g":"ER+ tumors","a":0.17,"b":0.025,"c":0.015},{"e":2.7,"g":"ER+ tumors","a":0.08,"b":0.03,"c":0.03},
{"e":-0.7,"g":"ER- tumors","a":0.5,"b":0.025,"c":0.012},{"e":1.8,"g":"ER- tumors","a":0.605,"b":0.525,"c":0.5},{"e":0.05,"g":"ER- tumors","a":0.4,"b":0.373,"c":0.24},{"e":-2.6,"g":"ER- tumors","a":0.29,"b":0.025,"c":0.012},{"e":-3.4,"g":"ER- tumors","a":0.045,"b":0.025,"c":0.03},{"e":-2,"g":"ER- tumors","a":0.13,"b":0.02,"c":0.012},{"e":-1.85,"g":"ER- tumors","a":0.11,"b":0.025,"c":0.015},{"e":-1.2,"g":"ER- tumors","a":0.18,"b":0.02,"c":0.012},{"e":-0.9,"g":"ER- tumors","a":0.2,"b":0.03,"c":0.012},{"e":-0.3,"g":"ER- tumors","a":0.11,"b":0.025,"c":0.015},{"e":0.3,"g":"ER- tumors","a":0.06,"b":0.02,"c":0.012},{"e":0.5,"g":"ER- tumors","a":0.05,"b":0.025,"c":0.012},{"e":0.7,"g":"ER- tumors","a":0.04,"b":0.03,"c":0.012},{"e":0.8,"g":"ER- tumors","a":0.08,"b":0.02,"c":0.015},{"e":1.2,"g":"ER- tumors","a":0.28,"b":0.025,"c":0.012},{"e":1.3,"g":"ER- tumors","a":0.15,"b":0.03,"c":0.012},{"e":1.4,"g":"ER- tumors","a":0.04,"b":0.03,"c":0.02},{"e":1.7,"g":"ER- tumors","a":0.06,"b":0.035,"c":0.03},{"e":1.85,"g":"ER- tumors","a":0.03,"b":0.025,"c":0.025},{"e":1.95,"g":"ER- tumors","a":0.05,"b":0.02,"c":0.012},{"e":2.1,"g":"ER- tumors","a":0.07,"b":0.025,"c":0.01},{"e":2.3,"g":"ER- tumors","a":0.07,"b":0.025,"c":0.01},{"e":2.72,"g":"ER- tumors","a":0.09,"b":0.035,"c":0.02},{"e":2.8,"g":"ER- tumors","a":0.08,"b":0.025,"c":0.015},{"e":3.1,"g":"ER- tumors","a":0.055,"b":0.02,"c":0.012},{"e":3.3,"g":"ER- tumors","a":0.08,"b":0.025,"c":0.012},{"e":3.4,"g":"ER- tumors","a":0.06,"b":0.025,"c":0.012},{"e":3.8,"g":"ER- tumors","a":0.12,"b":0.025,"c":0.015},{"e":3.7,"g":"ER- tumors","a":0.04,"b":0.02,"c":0.01},{"e":4.2,"g":"ER- tumors","a":0.04,"b":0.02,"c":0.015},{"e":5.6,"g":"ER- tumors","a":0.065,"b":0.025,"c":0.02},{"e":1,"g":"ER- tumors","a":0.12,"b":0.025,"c":0.012},{"e":0.1,"g":"ER- tumors","a":0.2,"b":0.03,"c":0.012},
{"e":-3.6,"g":"Normal tissue","a":0.085,"b":0.02,"c":0.01},{"e":-3.1,"g":"Normal tissue","a":0.1,"b":0.025,"c":0.012},{"e":-2.7,"g":"Normal tissue","a":0.085,"b":0.02,"c":0.01},{"e":-2.3,"g":"Normal tissue","a":0.105,"b":0.03,"c":0.012},{"e":-1.9,"g":"Normal tissue","a":0.09,"b":0.025,"c":0.01},{"e":-1.3,"g":"Normal tissue","a":0.11,"b":0.025,"c":0.012},{"e":-1.2,"g":"Normal tissue","a":0.14,"b":0.03,"c":0.01},{"e":-1.1,"g":"Normal tissue","a":0.18,"b":0.025,"c":0.012},{"e":-0.9,"g":"Normal tissue","a":0.2,"b":0.02,"c":0.01},{"e":-0.8,"g":"Normal tissue","a":0.21,"b":0.03,"c":0.01},{"e":-0.7,"g":"Normal tissue","a":0.13,"b":0.025,"c":0.012},{"e":-0.6,"g":"Normal tissue","a":0.23,"b":0.03,"c":0.01},{"e":-0.5,"g":"Normal tissue","a":0.22,"b":0.02,"c":0.01},{"e":-0.45,"g":"Normal tissue","a":0.12,"b":0.1,"c":0.012},{"e":-0.4,"g":"Normal tissue","a":0.15,"b":0.03,"c":0.01},{"e":-0.3,"g":"Normal tissue","a":0.19,"b":0.025,"c":0.012},{"e":-0.25,"g":"Normal tissue","a":0.1,"b":0.035,"c":0.01},{"e":-0.2,"g":"Normal tissue","a":0.17,"b":0.02,"c":0.01},{"e":-0.1,"g":"Normal tissue","a":0.21,"b":0.03,"c":0.012},{"e":0,"g":"Normal tissue","a":0.2,"b":0.025,"c":0.01},{"e":0.02,"g":"Normal tissue","a":0.13,"b":0.03,"c":0.01},{"e":0.1,"g":"Normal tissue","a":0.1,"b":0.02,"c":0.012},{"e":0.2,"g":"Normal tissue","a":0.16,"b":0.03,"c":0.01},{"e":0.3,"g":"Normal tissue","a":0.12,"b":0.025,"c":0.012},{"e":0.4,"g":"Normal tissue","a":0.18,"b":0.03,"c":0.01},{"e":0.5,"g":"Normal tissue","a":0.11,"b":0.025,"c":0.012},{"e":0.7,"g":"Normal tissue","a":0.17,"b":0.025,"c":0.01},{"e":0.9,"g":"Normal tissue","a":0.15,"b":0.03,"c":0.012},{"e":1.1,"g":"Normal tissue","a":0.13,"b":0.025,"c":0.01},{"e":1.3,"g":"Normal tissue","a":0.1,"b":0.03,"c":0.012},{"e":1.7,"g":"Normal tissue","a":0.19,"b":0.03,"c":0.015},{"e":-1,"g":"Normal tissue","a":0.1,"b":0.03,"c":0.01}],
"curve300":[{"e":-4,"p":0.425},{"e":-3,"p":0.36},{"e":-2,"p":0.3},{"e":-1,"p":0.245},{"e":0,"p":0.205},{"e":1,"p":0.16},{"e":2,"p":0.125},{"e":3,"p":0.105},{"e":4,"p":0.0875},{"e":5,"p":0.0675},{"e":5.6,"p":0.06}],
"curve54":[{"e":-4,"p":0.4375},{"e":-3,"p":0.365},{"e":-2,"p":0.3},{"e":-1,"p":0.235},{"e":0,"p":0.185},{"e":1,"p":0.15},{"e":2,"p":0.125},{"e":3,"p":0.095},{"e":4,"p":0.07},{"e":5,"p":0.05},{"e":5.45,"p":0.0435}],
"curve12":[{"e":-3.95,"p":0.3075},{"e":-3,"p":0.26},{"e":-2,"p":0.215},{"e":-1,"p":0.18},{"e":0,"p":0.145},{"e":1,"p":0.1125},{"e":2,"p":0.09},{"e":3,"p":0.07},{"e":4,"p":0.055},{"e":5,"p":0.045},{"e":5.5,"p":0.04}]
},
"layer":[
{"data":{"name":"leafT"},"mark":{"type":"rule","color":"#888","strokeWidth":0.8},"encoding":{"x":{"field":"a","type":"quantitative","scale":{"domain":[0,317],"range":[8,325]},"axis":null},"y":{"field":"h","type":"quantitative","scale":{"domain":[0,43],"range":[67,24]},"axis":null},"y2":{"datum":0}}},
{"data":{"name":"leafT"},"mark":{"type":"rule","color":"#888","strokeWidth":0.8},"encoding":{"x":{"field":"b","type":"quantitative","scale":{"domain":[0,317],"range":[8,325]},"axis":null},"y":{"field":"h","type":"quantitative","scale":{"domain":[0,43],"range":[67,24]},"axis":null},"y2":{"datum":0}}},
{"data":{"name":"leafT"},"mark":{"type":"rule","color":"#888","strokeWidth":0.8},"encoding":{"x":{"field":"a","type":"quantitative","scale":{"domain":[0,317],"range":[8,325]},"axis":null},"x2":{"field":"b"},"y":{"field":"h","type":"quantitative","scale":{"domain":[0,43],"range":[67,24]},"axis":null}}},
{"data":{"name":"treeT"},"mark":{"type":"rule","color":"#444","strokeWidth":0.8},"encoding":{"x":{"field":"a","type":"quantitative","scale":{"domain":[0,317],"range":[8,325]},"axis":null},"y":{"field":"ha","type":"quantitative","scale":{"domain":[0,43],"range":[67,24]},"axis":null},"y2":{"field":"h"}}},
{"data":{"name":"treeT"},"mark":{"type":"rule","color":"#444","strokeWidth":0.8},"encoding":{"x":{"field":"b","type":"quantitative","scale":{"domain":[0,317],"range":[8,325]},"axis":null},"y":{"field":"hb","type":"quantitative","scale":{"domain":[0,43],"range":[67,24]},"axis":null},"y2":{"field":"h"}}},
{"data":{"name":"treeT"},"mark":{"type":"rule","color":"#444","strokeWidth":0.8},"encoding":{"x":{"field":"a","type":"quantitative","scale":{"domain":[0,317],"range":[8,325]},"axis":{"orient":"top","title":"Tumor","labels":false,"ticks":false,"titleX":163,"titleY":14,"titleBaseline":"middle"}},"x2":{"field":"b"},"y":{"field":"h","type":"quantitative","scale":{"domain":[0,43],"range":[67,24]},"axis":null}}},
{"data":{"name":"heatT"},"mark":"rect","encoding":{"x":{"field":"a","type":"quantitative","scale":{"domain":[0,317],"range":[8,325]},"axis":null},"x2":{"field":"b"},"y":{"field":"p","type":"nominal","scale":{"domain":["15470","10040","9854","2540","1556","1094","300","54","12","-8","-15","-793"],"range":[68,224],"paddingInner":0,"paddingOuter":0},"axis":null},"color":{"field":"v","type":"quantitative","scale":{"domain":[0,0.5,1],"range":["#00ff00","#000000","#ff0000"]},"legend":null}}},
{"data":{"name":"exprT"},"mark":{"type":"rule","color":"#000","strokeWidth":1.7},"encoding":{"x":{"field":"s","type":"quantitative","scale":{"domain":[0,317],"range":[8,325]},"axis":null},"y":{"field":"e","type":"quantitative","scale":{"domain":[-4,5.71],"range":[299,231]},"axis":null},"y2":{"datum":0}}},
{"data":{"name":"strip"},"mark":"rect","encoding":{"x":{"field":"a","type":"quantitative","scale":{"domain":[0,317],"range":[8,325]},"axis":null},"x2":{"field":"b"},"y":{"field":"t","type":"nominal","scale":{"domain":["ER","HER2"],"range":[313,339],"paddingInner":0,"paddingOuter":0},"axis":{"orient":"right","offset":-348,"title":null,"ticks":false,"labelPadding":0,"labelAlign":"left"}},"color":{"field":"k","type":"nominal","scale":{"domain":["Positive/enriched","Negative/normal"],"range":["#1010f0","#ffff00"]},"legend":{"orient":"none","legendX":375,"legendY":308,"title":null,"padding":6,"strokeColor":"#000","fillColor":"#fff","labelFontSize":11,"labelColor":"#222","symbolType":"M-0.45,-1H0.45V1H-0.45Z","symbolSize":60,"symbolStrokeWidth":0,"labelOffset":4,"rowPadding":1}}}},
{"data":{"name":"leafN"},"mark":{"type":"rule","color":"#bbb","strokeWidth":0.8},"encoding":{"x":{"field":"a","type":"quantitative","scale":{"domain":[0,58],"range":[334,392]},"axis":null},"y":{"field":"h","type":"quantitative","scale":{"domain":[0,43],"range":[67,24]},"axis":null},"y2":{"datum":0}}},
{"data":{"name":"leafN"},"mark":{"type":"rule","color":"#bbb","strokeWidth":0.8},"encoding":{"x":{"field":"b","type":"quantitative","scale":{"domain":[0,58],"range":[334,392]},"axis":null},"y":{"field":"h","type":"quantitative","scale":{"domain":[0,43],"range":[67,24]},"axis":null},"y2":{"datum":0}}},
{"data":{"name":"leafN"},"mark":{"type":"rule","color":"#bbb","strokeWidth":0.8},"encoding":{"x":{"field":"a","type":"quantitative","scale":{"domain":[0,58],"range":[334,392]},"axis":null},"x2":{"field":"b"},"y":{"field":"h","type":"quantitative","scale":{"domain":[0,43],"range":[67,24]},"axis":null}}},
{"data":{"name":"treeN"},"mark":{"type":"rule","color":"#555","strokeWidth":0.8},"encoding":{"x":{"field":"a","type":"quantitative","scale":{"domain":[0,58],"range":[334,392]},"axis":null},"y":{"field":"ha","type":"quantitative","scale":{"domain":[0,43],"range":[67,24]},"axis":null},"y2":{"field":"h"}}},
{"data":{"name":"treeN"},"mark":{"type":"rule","color":"#555","strokeWidth":0.8},"encoding":{"x":{"field":"b","type":"quantitative","scale":{"domain":[0,58],"range":[334,392]},"axis":null},"y":{"field":"hb","type":"quantitative","scale":{"domain":[0,43],"range":[67,24]},"axis":null},"y2":{"field":"h"}}},
{"data":{"name":"treeN"},"mark":{"type":"rule","color":"#555","strokeWidth":0.8},"encoding":{"x":{"field":"a","type":"quantitative","scale":{"domain":[0,58],"range":[334,392]},"axis":{"orient":"top","title":"Normal","labels":false,"ticks":false,"titleX":361,"titleY":14,"titleBaseline":"middle"}},"x2":{"field":"b"},"y":{"field":"h","type":"quantitative","scale":{"domain":[0,43],"range":[67,24]},"axis":null}}},
{"data":{"name":"heatN"},"mark":"rect","encoding":{"x":{"field":"a","type":"quantitative","scale":{"domain":[0,58],"range":[334,392]},"axis":null},"x2":{"field":"b"},"y":{"field":"p","type":"nominal","scale":{"domain":["15470","10040","9854","2540","1556","1094","300","54","12","-8","-15","-793"],"range":[68,224],"paddingInner":0,"paddingOuter":0},"axis":{"orient":"right","offset":-279,"ticks":false,"labelPadding":0,"labelAlign":"left","title":["Probe","distance","from TSS"],"titleAngle":0,"titleAlign":"left","titleBaseline":"middle","titleX":0,"titleY":21,"titleLineHeight":13}},"color":{"field":"v","type":"quantitative","scale":{"domain":[0,0.5,1],"range":["#00ff00","#000000","#ff0000"]},"legend":{"orient":"none","legendX":484,"legendY":15,"title":"Methylation","titleFontSize":11,"titleFontWeight":"bold","titleColor":"#111","titlePadding":22,"direction":"horizontal","gradientLength":60,"gradientThickness":15,"values":[0,1],"format":".0f","labelFontSize":11,"labelColor":"#222","padding":0}}}},
{"data":{"name":"exprN"},"mark":{"type":"rule","color":"#000","strokeWidth":1.3},"encoding":{"x":{"field":"s","type":"quantitative","scale":{"domain":[0,58],"range":[334,392]},"axis":null},"y":{"field":"e","type":"quantitative","scale":{"domain":[-4,5.71],"range":[299,231]},"axis":{"orient":"right","offset":-280,"values":[-4,-2,0,2,4],"labelExpr":"toString(datum.value)","domain":true,"domainColor":"#000","domainWidth":1.5,"tickColor":"#000","tickWidth":1.5,"tickSize":5,"labelPadding":10,"labelAlign":"center","title":["Expression","(log₂)"],"titleAngle":270,"titleAlign":"center","titleBaseline":"middle","titleX":31,"titleY":268,"titleLineHeight":15}},"y2":{"datum":0}}},
{"data":{"name":"boxes"},"mark":{"type":"rect","fill":null,"strokeWidth":2.4,"strokeDash":[7,5]},"encoding":{"x":{"field":"x0","type":"quantitative","scale":{"domain":[0,317],"range":[8,325]},"axis":null},"x2":{"field":"x1"},"y":{"field":"y0","type":"quantitative","scale":{"domain":[0,12],"range":[68,224]},"axis":null},"y2":{"field":"y1"},"stroke":{"field":"c","type":"nominal","scale":{"domain":["blue","orange"],"range":["#3a5f8c","#e07b28"]},"legend":null}}},
{"data":{"values":[{"s":103.7,"r":6,"r2":11}]},"mark":{"type":"rule","color":"#000","strokeWidth":1.3},"encoding":{"x":{"field":"s","type":"quantitative","scale":{"domain":[0,58],"range":[334,392]},"axis":null},"y":{"field":"r","type":"quantitative","scale":{"domain":[0,12],"range":[68,224]},"axis":null},"y2":{"field":"r2"}}},
{"data":{"values":[{"s":100.5,"s2":103.7,"r":6},{"s":100.5,"s2":103.7,"r":11}]},"mark":{"type":"rule","color":"#000","strokeWidth":1.3},"encoding":{"x":{"field":"s","type":"quantitative","scale":{"domain":[0,58],"range":[334,392]},"axis":null},"x2":{"field":"s2"},"y":{"field":"r","type":"quantitative","scale":{"domain":[0,12],"range":[68,224]},"axis":null}}},
{"data":{"values":[{"s":119,"r":8.46,"t":"CpG island"}]},"mark":{"type":"text","angle":270,"fontWeight":"bold","fontSize":11,"color":"#111","align":"center","baseline":"middle"},"encoding":{"x":{"field":"s","type":"quantitative","scale":{"domain":[0,58],"range":[334,392]},"axis":null},"y":{"field":"r","type":"quantitative","scale":{"domain":[0,12],"range":[68,224]},"axis":null},"text":{"field":"t"}}},
{"data":{"values":[{"s":180,"r":-2.6,"t":"(beta value)"}]},"mark":{"type":"text","fontSize":11,"color":"#222","align":"center","baseline":"middle"},"encoding":{"x":{"field":"s","type":"quantitative","scale":{"domain":[0,58],"range":[334,392]},"axis":null},"y":{"field":"r","type":"quantitative","scale":{"domain":[0,12],"range":[68,224]},"axis":null},"text":{"field":"t"}}},
{"data":{"values":[{"s":-326,"r":-4.15,"t":"A"},{"s":146,"r":3.9,"t":"B"},{"s":-327,"r":23.5,"t":"C"}]},"mark":{"type":"text","fontSize":17,"fontWeight":"bold","color":"#000","align":"left","baseline":"middle"},"encoding":{"x":{"field":"s","type":"quantitative","scale":{"domain":[0,58],"range":[334,392]},"axis":null},"y":{"field":"r","type":"quantitative","scale":{"domain":[0,12],"range":[68,224]},"axis":null},"text":{"field":"t"}}},
{"data":{"values":[{"x0":0,"x1":1,"y0":0,"y1":1}]},"mark":{"type":"rect","fill":null,"stroke":"#999","strokeWidth":1.3},"encoding":{"x":{"field":"x0","type":"quantitative","scale":{"domain":[0,1],"range":[532,675]},"axis":null},"x2":{"field":"x1"},"y":{"field":"y0","type":"quantitative","scale":{"domain":[0,1],"range":[272,134]},"axis":null},"y2":{"field":"y1"}}},
{"data":{"name":"bp"},"mark":{"type":"rule","color":"#555","strokeWidth":0.8,"strokeDash":[1,1]},"encoding":{"x":{"field":"c","type":"nominal","scale":{"type":"point","domain":["300T","300N","54T","54N","12T","12N","-8T","-8N","-15T","-15N"],"range":[545,663],"padding":0},"axis":{"orient":"bottom","offset":-302,"ticks":false,"title":null,"labelPadding":7,"labelAngle":0,"labelExpr":"slice(datum.label,-1)"}},"y":{"field":"lo","type":"quantitative","scale":{"domain":[-0.02,0.812],"range":[272,134]},"axis":{"orient":"left","offset":-532,"values":[0,0.2,0.4,0.6,0.8],"format":".1f","tickSize":6,"labelPadding":3,"title":"Methylation (beta value)","titleX":-36,"titleY":204,"titleAngle":270,"titleAlign":"center","titleBaseline":"middle"}},"y2":{"field":"hi"}}},
{"data":{"name":"bp"},"mark":{"type":"bar","size":11,"stroke":"#888","strokeWidth":0.8},"encoding":{"x":{"field":"c","type":"nominal","scale":{"type":"point","domain":["300T","300N","54T","54N","12T","12N","-8T","-8N","-15T","-15N"],"range":[545,663],"padding":0},"axis":null},"y":{"field":"q1","type":"quantitative","scale":{"domain":[-0.02,0.812],"range":[272,134]},"axis":null},"y2":{"field":"q3"},"color":{"field":"k","type":"nominal","scale":{"domain":["T","N"],"range":["#bdbdbd","#ffffff"]},"legend":null}}},
{"data":{"name":"bp"},"mark":{"type":"tick","size":11,"thickness":1.4,"color":"#000","opacity":1},"encoding":{"x":{"field":"c","type":"nominal","scale":{"type":"point","domain":["300T","300N","54T","54N","12T","12N","-8T","-8N","-15T","-15N"],"range":[545,663],"padding":0},"axis":null},"y":{"field":"m","type":"quantitative","scale":{"domain":[-0.02,0.812],"range":[272,134]},"axis":null}}},
{"data":{"name":"out"},"mark":{"type":"point","filled":true,"color":"#000","size":8,"opacity":1},"encoding":{"x":{"field":"c","type":"nominal","scale":{"type":"point","domain":["300T","300N","54T","54N","12T","12N","-8T","-8N","-15T","-15N"],"range":[545,663],"padding":0},"axis":null},"y":{"field":"v","type":"quantitative","scale":{"domain":[-0.02,0.812],"range":[272,134]},"axis":null}}},
{"data":{"name":"bp"},"mark":{"type":"point","opacity":0},"encoding":{"x":{"field":"g","type":"nominal","scale":{"type":"band","domain":["300","54","12","-8","-15"],"range":[538,669],"paddingInner":0,"paddingOuter":0},"axis":{"orient":"bottom","offset":-302,"ticks":false,"labelAngle":0,"labelPadding":23,"title":"Probe distance from TSS","titleY":50,"titleBaseline":"middle"}},"y":{"field":"m","type":"quantitative","scale":{"domain":[-0.02,0.812],"range":[272,134]},"axis":null}}},
{"data":{"values":[{"e":-4.34,"x1":5.92,"y0":-0.034,"y1":1.045}]},"mark":{"type":"rect","fill":null,"stroke":"#999","strokeWidth":1.3},"encoding":{"x":{"field":"e","type":"quantitative","scale":{"domain":[-4.34,5.92],"range":[55.7,207]},"axis":{"orient":"bottom","offset":-50,"values":[-4,-2,0,2,4],"labelExpr":"toString(datum.value)","tickSize":4,"labelPadding":8,"title":null}},"x2":{"field":"x1"},"y":{"field":"y0","type":"quantitative","scale":{"domain":[-0.034,1.045],"range":[524,388]},"axis":{"orient":"left","offset":-55.7,"values":[0,0.2,0.4,0.6,0.8,1],"format":".1f","tickSize":6,"labelPadding":2,"title":"Methylation (beta value)","titleX":-37.7,"titleY":454,"titleAngle":270,"titleAlign":"center","titleBaseline":"middle"}},"y2":{"field":"y1"}}},
{"data":{"name":"pts"},"mark":{"type":"point","filled":true,"size":7,"opacity":1},"encoding":{"x":{"field":"e","type":"quantitative","scale":{"domain":[-4.34,5.92],"range":[55.7,207]},"axis":null},"y":{"field":"a","type":"quantitative","scale":{"domain":[-0.034,1.045],"range":[524,388]},"axis":null},"color":{"field":"g","type":"nominal","scale":{"domain":["ER+ tumors","ER- tumors","Normal tissue"],"range":["#1a1ae6","#e81010","#10e830"]},"legend":{"orient":"none","legendX":582,"legendY":388,"title":null,"padding":6,"strokeColor":"#000","fillColor":"#fff","labelFontSize":11,"labelColor":"#222","symbolSize":45,"symbolType":"circle","symbolOpacity":1,"rowPadding":1}}}},
{"data":{"values":[{"e":-4.34,"x1":5.92,"t":0.288}]},"mark":{"type":"rule","color":"#555","strokeWidth":1},"encoding":{"x":{"field":"e","type":"quantitative","scale":{"domain":[-4.34,5.92],"range":[55.7,207]},"axis":null},"x2":{"field":"x1"},"y":{"field":"t","type":"quantitative","scale":{"domain":[-0.034,1.045],"range":[524,388]},"axis":null}}},
{"data":{"values":[{"e":4.6,"y":0.947,"t":"300"}]},"mark":{"type":"text","fontWeight":"bold","fontSize":11,"color":"#111"},"encoding":{"x":{"field":"e","type":"quantitative","scale":{"domain":[-4.34,5.92],"range":[55.7,207]},"axis":null},"y":{"field":"y","type":"quantitative","scale":{"domain":[-0.034,1.045],"range":[524,388]},"axis":null},"text":{"field":"t"}}},
{"data":{"name":"curve300"},"mark":{"type":"line","color":"#222","strokeWidth":1,"interpolate":"monotone"},"encoding":{"x":{"field":"e","type":"quantitative","scale":{"domain":[-4.34,5.92],"range":[55.7,207]},"axis":null},"y":{"field":"p","type":"quantitative","scale":{"domain":[-0.017,0.5225],"range":[524,388]},"axis":null}}},
{"data":{"values":[{"e":-4.34,"x1":5.84,"y0":-0.034,"y1":1.045}]},"mark":{"type":"rect","fill":null,"stroke":"#999","strokeWidth":1.3},"encoding":{"x":{"field":"e","type":"quantitative","scale":{"domain":[-4.34,5.84],"range":[215,366.7]},"axis":{"orient":"bottom","offset":-50,"values":[-4,-2,0,2,4],"labelExpr":"toString(datum.value)","tickSize":4,"labelPadding":8,"title":"Expression (log₂)","titleX":291,"titleY":38,"titleBaseline":"middle"}},"x2":{"field":"x1"},"y":{"field":"y0","type":"quantitative","scale":{"domain":[-0.034,1.045],"range":[524,388]},"axis":{"orient":"left","offset":-215,"values":[0,0.2,0.4,0.6,0.8,1],"labels":false,"tickSize":5,"title":null}},"y2":{"field":"y1"}}},
{"data":{"name":"pts"},"mark":{"type":"point","filled":true,"size":7,"opacity":1},"encoding":{"x":{"field":"e","type":"quantitative","scale":{"domain":[-4.34,5.84],"range":[215,366.7]},"axis":null},"y":{"field":"b","type":"quantitative","scale":{"domain":[-0.034,1.045],"range":[524,388]},"axis":null},"color":{"field":"g","type":"nominal","scale":{"domain":["ER+ tumors","ER- tumors","Normal tissue"],"range":["#1a1ae6","#e81010","#10e830"]},"legend":null}}},
{"data":{"values":[{"e":-4.34,"x1":5.84,"t":0.058}]},"mark":{"type":"rule","color":"#555","strokeWidth":1},"encoding":{"x":{"field":"e","type":"quantitative","scale":{"domain":[-4.34,5.84],"range":[215,366.7]},"axis":null},"x2":{"field":"x1"},"y":{"field":"t","type":"quantitative","scale":{"domain":[-0.034,1.045],"range":[524,388]},"axis":null}}},
{"data":{"values":[{"e":4.8,"y":0.947,"t":"54"}]},"mark":{"type":"text","fontWeight":"bold","fontSize":11,"color":"#111"},"encoding":{"x":{"field":"e","type":"quantitative","scale":{"domain":[-4.34,5.84],"range":[215,366.7]},"axis":null},"y":{"field":"y","type":"quantitative","scale":{"domain":[-0.034,1.045],"range":[524,388]},"axis":null},"text":{"field":"t"}}},
{"data":{"name":"curve54"},"mark":{"type":"line","color":"#222","strokeWidth":1,"interpolate":"monotone"},"encoding":{"x":{"field":"e","type":"quantitative","scale":{"domain":[-4.34,5.84],"range":[215,366.7]},"axis":null},"y":{"field":"p","type":"quantitative","scale":{"domain":[-0.017,0.5225],"range":[524,388]},"axis":null}}},
{"data":{"values":[{"e":-4.34,"x1":5.86,"y0":-0.034,"y1":1.045}]},"mark":{"type":"rect","fill":null,"stroke":"#999","strokeWidth":1.3},"encoding":{"x":{"field":"e","type":"quantitative","scale":{"domain":[-4.34,5.86],"range":[374.7,526.7]},"axis":{"orient":"bottom","offset":-50,"values":[-4,-2,0,2,4],"labelExpr":"toString(datum.value)","tickSize":4,"labelPadding":8,"title":null}},"x2":{"field":"x1"},"y":{"field":"y0","type":"quantitative","scale":{"domain":[-0.034,1.045],"range":[524,388]},"axis":{"orient":"left","offset":-374.7,"values":[0,0.2,0.4,0.6,0.8,1],"labels":false,"tickSize":5,"title":null}},"y2":{"field":"y1"}}},
{"data":{"name":"pts"},"mark":{"type":"point","filled":true,"size":7,"opacity":1},"encoding":{"x":{"field":"e","type":"quantitative","scale":{"domain":[-4.34,5.86],"range":[374.7,526.7]},"axis":null},"y":{"field":"c","type":"quantitative","scale":{"domain":[-0.034,1.045],"range":[524,388]},"axis":null},"color":{"field":"g","type":"nominal","scale":{"domain":["ER+ tumors","ER- tumors","Normal tissue"],"range":["#1a1ae6","#e81010","#10e830"]},"legend":null}}},
{"data":{"values":[{"e":-4.34,"x1":5.86,"t":0.03}]},"mark":{"type":"rule","color":"#555","strokeWidth":1},"encoding":{"x":{"field":"e","type":"quantitative","scale":{"domain":[-4.34,5.86],"range":[374.7,526.7]},"axis":null},"x2":{"field":"x1"},"y":{"field":"t","type":"quantitative","scale":{"domain":[-0.034,1.045],"range":[524,388]},"axis":null}}},
{"data":{"values":[{"e":4.75,"y":0.947,"t":"12"}]},"mark":{"type":"text","fontWeight":"bold","fontSize":11,"color":"#111"},"encoding":{"x":{"field":"e","type":"quantitative","scale":{"domain":[-4.34,5.86],"range":[374.7,526.7]},"axis":null},"y":{"field":"y","type":"quantitative","scale":{"domain":[-0.034,1.045],"range":[524,388]},"axis":null},"text":{"field":"t"}}},
{"data":{"name":"curve12"},"mark":{"type":"line","color":"#222","strokeWidth":1,"interpolate":"monotone"},"encoding":{"x":{"field":"e","type":"quantitative","scale":{"domain":[-4.34,5.86],"range":[374.7,526.7]},"axis":null},"y":{"field":"p","type":"quantitative","scale":{"domain":[-0.017,0.5225],"range":[524,388]},"axis":{"orient":"right","offset":-156.3,"values":[0,0.1,0.2,0.3,0.4,0.5],"format":".0%","labelExpr":"datum.value==0?'':datum.label","tickSize":5,"labelPadding":2,"title":"Methylation probability","titleX":41,"titleY":450,"titleAngle":270,"titleAlign":"center","titleBaseline":"middle"}}}}
],
"resolve":{"scale":{"x":"independent","y":"independent","color":"independent","stroke":"independent"},"axis":{"x":"independent","y":"independent"},"legend":{"color":"independent"}}}
